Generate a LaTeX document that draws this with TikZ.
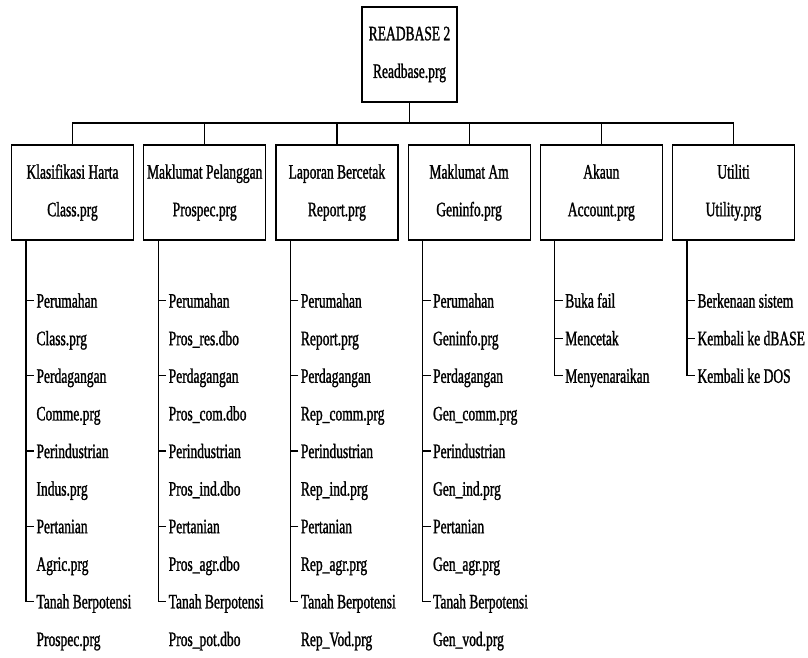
\documentclass[tikz,border=0pt]{standalone}
\usepackage{fontspec}
\setmainfont{Liberation Serif}[FakeStretch=0.66, FakeBold=1.2]
\usetikzlibrary{positioning}

\begin{document}
\begin{tikzpicture}[
  x=1pt, y=-1pt,
  font=\fontsize{20.5}{37.6}\selectfont,
  line width=1.2pt,
  box/.style={draw, align=center, inner sep=1pt, minimum width=122pt, minimum height=95pt},
  item/.style={anchor=base west, inner xsep=2pt, inner ysep=0pt},
]
\useasboundingbox (0,0) rectangle (808,657);

% menu utama dan modul
\node[box, minimum width=95pt] (root) at (409.5,54.5) {READBASE 2\\Readbase.prg};
\node[box] (klas) at (72.5,192.5) {Klasifikasi Harta\\Class.prg};
\node[box, right=9pt of klas] (pel) {Maklumat Pelanggan\\Prospec.prg};
\node[box, right=9pt of pel] (lap) {Laporan Bercetak\\Report.prg};
\node[box, right=9pt of lap] (am) {Maklumat Am\\Geninfo.prg};
\node[box, right=9pt of am] (akaun) {Akaun\\Account.prg};
\node[box, right=9pt of akaun] (util) {Utiliti\\Utility.prg};

\coordinate (bus) at (0,123);
\draw (root.south) -- (root.south |- bus);
\draw (klas.north) |- (util.north |- bus) -- (util.north);
\draw (pel.north) -- (pel.north |- bus);
\draw (lap.north) -- (lap.north |- bus);
\draw (am.north) -- (am.north |- bus);
\draw (akaun.north) -- (akaun.north |- bus);

% senarai bawah setiap modul
\coordinate (klasv) at ([xshift=15pt]klas.south west);
\coordinate (pelv) at ([xshift=15pt]pel.south west);
\coordinate (lapv) at ([xshift=15pt]lap.south west);
\coordinate (amv) at ([xshift=15pt]am.south west);
\coordinate (akaunv) at ([xshift=15pt]akaun.south west);
\coordinate (utilv) at ([xshift=15pt]util.south west);

\foreach \t [count=\i] in {Perumahan, Class.prg, Perdagangan, Comme.prg, Perindustrian, Indus.prg, Pertanian, Agric.prg, Tanah Berpotensi, Prospec.prg}
  \node[item] (klas\i) at ([shift={(23,29.4+37.6*\i)}]klas.south west) {\t};
\foreach \t [count=\i] in {Perumahan, Pros\_res.dbo, Perdagangan, Pros\_com.dbo, Perindustrian, Pros\_ind.dbo, Pertanian, Pros\_agr.dbo, Tanah Berpotensi, Pros\_pot.dbo}
  \node[item] (pel\i) at ([shift={(23,29.4+37.6*\i)}]pel.south west) {\t};
\foreach \t [count=\i] in {Perumahan, Report.prg, Perdagangan, Rep\_comm.prg, Perindustrian, Rep\_ind.prg, Pertanian, Rep\_agr.prg, Tanah Berpotensi, Rep\_Vod.prg}
  \node[item] (lap\i) at ([shift={(23,29.4+37.6*\i)}]lap.south west) {\t};
\foreach \t [count=\i] in {Perumahan, Geninfo.prg, Perdagangan, Gen\_comm.prg, Perindustrian, Gen\_ind.prg, Pertanian, Gen\_agr.prg, Tanah Berpotensi, Gen\_vod.prg}
  \node[item] (am\i) at ([shift={(23,29.4+37.6*\i)}]am.south west) {\t};
\foreach \t [count=\i] in {Buka fail, Mencetak, Menyenaraikan}
  \node[item] (akaun\i) at ([shift={(23,29.4+37.6*\i)}]akaun.south west) {\t};
\foreach \t [count=\i] in {Berkenaan sistem, Kembali ke dBASE, Kembali ke DOS}
  \node[item] (util\i) at ([shift={(23,29.4+37.6*\i)}]util.south west) {\t};

\foreach \m in {klas, pel, lap, am} {
  \draw (\m v) |- ([yshift=7pt]\m 9.base west);
  \foreach \i in {1,3,5,7}
    \draw ([yshift=7pt]\m\i.base west) -- ++(-8,0);
}
\foreach \m in {akaun, util} {
  \draw (\m v) |- ([yshift=7pt]\m 3.base west);
  \foreach \i in {1,2}
    \draw ([yshift=7pt]\m\i.base west) -- ++(-8,0);
}
\end{tikzpicture}
\end{document}
